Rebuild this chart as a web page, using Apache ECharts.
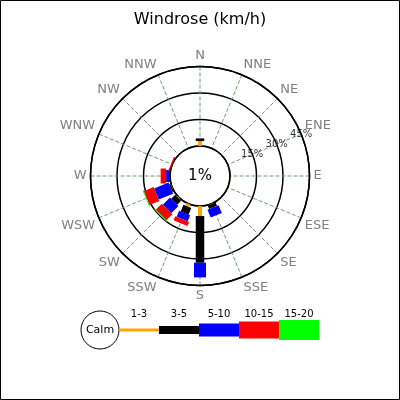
<!DOCTYPE html>
<html>
<head>
<meta charset="utf-8">
<script src="https://cdn.jsdelivr.net/npm/echarts@6/dist/echarts.min.js"></script>
<style>
html, body { margin: 0; padding: 0; background: #fff; }
#chart { width: 400px; height: 400px; }
</style>
</head>
<body>
<div id="chart"></div>
<script>
// directions, clockwise from north
var directions = ['N', 'NNE', 'NE', 'ENE', 'E', 'ESE', 'SE', 'SSE', 'S', 'SSW', 'SW', 'WSW', 'W', 'WNW', 'NW', 'NNW'];
var speedClasses = ['1-3', '3-5', '5-10', '10-15', '15-20'];
// percent of time per direction and speed class (km/h)
var speed1to3   = [2.8, 0, 0, 0, 0, 0, 0, 0.3, 5.7, 1.7, 0.5, 0.3, 0, 0, 0, 0];
var speed3to5   = [1.5, 0, 0, 0, 0, 0, 0, 2.0, 26.4, 4.0, 3.2, 0.6, 0, 0, 0, 0];
var speed5to10  = [0, 0, 0, 0, 0, 0, 0, 4.8, 8.3, 3.7, 5.7, 8.8, 2.2, 0, 0, 0];
var speed10to15 = [0, 0, 0, 0, 0, 0, 0, 0, 0, 2.5, 4.8, 6.0, 3.1, 0.8, 0, 0];
var speed15to20 = [0, 0, 0, 0, 0, 0, 0, 0, 0, 0, 0.5, 0.5, 0, 0, 0, 0];
var radialTicks = [15, 30, 45];
var calmPercent = 1;

var colors = ['#ffa500', '#000000', '#0000ff', '#ff0000', '#00ff00'];
var barWidths = [4, 8.5, 12, 15, 18];      // px, in the rose
var legendThick = [3, 8, 13, 17, 20];      // px, in the legend
var font = 'DejaVu Sans';
var step = 360 / directions.length;

function makeRenderer(color, w) {
	return function (params, api) {
		var a = api.value(2);
		var p0 = api.coord([api.value(0), a]);
		var p1 = api.coord([api.value(1), a]);
		var q0 = api.coord([0, a]);
		var q1 = api.coord([radialTicks[radialTicks.length - 1], a]);
		var dx = q1[0] - q0[0], dy = q1[1] - q0[1];
		var len = Math.sqrt(dx * dx + dy * dy);
		var nx = -dy / len * w / 2, ny = dx / len * w / 2;
		return {
			type: 'polygon',
			shape: {
				points: [
					[p0[0] + nx, p0[1] + ny],
					[p1[0] + nx, p1[1] + ny],
					[p1[0] - nx, p1[1] - ny],
					[p0[0] - nx, p0[1] - ny]
				]
			},
			style: { fill: color }
		};
	};
}

// stack the classes outward, one rectangle per segment
var classValues = [speed1to3, speed3to5, speed5to10, speed10to15, speed15to20];
var base = directions.map(function () { return 0; });
var series = [];
classValues.forEach(function (vals, k) {
	var data = [];
	vals.forEach(function (v, i) {
		if (v > 0) data.push([base[i], base[i] + v, i * step]);
		base[i] += v;
	});
	series.push({
		name: speedClasses[k],
		type: 'custom',
		coordinateSystem: 'polar',
		encode: { radius: [0, 1], angle: 2 },
		renderItem: makeRenderer(colors[k], barWidths[k]),
		silent: true,
		z: 3,
		data: data
	});
});

// radial tick labels along ENE
series.push({
	type: 'scatter',
	coordinateSystem: 'polar',
	symbol: 'circle',
	symbolSize: 1,
	itemStyle: { color: 'transparent' },
	silent: true,
	z: 5,
	label: {
		show: true,
		position: 'inside',
		formatter: function (p) { return p.value[0] + '%'; },
		fontSize: 10,
		color: '#000',
		fontFamily: font
	},
	data: radialTicks.map(function (t) { return [t, directions.indexOf('ENE') * step]; })
});

// legend drawn as graphic
var graphics = [
	{ type: 'rect', shape: { x: 0.5, y: 0.5, width: 399, height: 399 }, style: { fill: 'none', stroke: '#000', lineWidth: 1 }, silent: true },
	{ type: 'text', style: { text: calmPercent + '%', x: 200, y: 176, textAlign: 'center', textVerticalAlign: 'middle', fontSize: 15, fontFamily: font, fill: '#000' } },
	{ type: 'circle', shape: { cx: 100, cy: 330, r: 19 }, style: { fill: '#fff', stroke: '#000', lineWidth: 1 } },
	{ type: 'text', style: { text: 'Calm', x: 100, y: 330, textAlign: 'center', textVerticalAlign: 'middle', fontSize: 11, fontFamily: font, fill: '#000' } }
];
speedClasses.forEach(function (name, k) {
	var x = 119 + k * 40;
	graphics.push({ type: 'rect', shape: { x: x, y: 330 - legendThick[k] / 2, width: 40, height: legendThick[k] }, style: { fill: colors[k] } });
	graphics.push({ type: 'text', style: { text: name, x: x + 20, y: 314, textAlign: 'center', textVerticalAlign: 'middle', fontSize: 10, fontFamily: font, fill: '#000' } });
});

var myChart = echarts.init(document.getElementById('chart'));
var option = {
	backgroundColor: '#fff',
	animation: false,
	textStyle: { fontFamily: font },
	title: {
		text: 'Windrose (km/h)',
		left: 'center',
		top: 7,
		textStyle: { fontSize: 16, fontWeight: 'normal', color: '#000', fontFamily: font }
	},
	polar: {
		center: [200, 176],
		radius: [30, 109.5]
	},
	angleAxis: {
		type: 'value',
		min: 0,
		max: 360,
		interval: step,
		startAngle: 90,
		clockwise: true,
		axisLine: { show: true, lineStyle: { color: '#000', width: 1.5 } },
		axisTick: { show: false },
		axisLabel: {
			color: '#808080',
			fontSize: 13,
			margin: 4,
			fontFamily: font,
			formatter: function (v) { return directions[Math.round(v / step) % directions.length]; }
		},
		splitLine: { show: true, lineStyle: { color: '#6aa06a', type: 'dashed', width: 1 } }
	},
	radiusAxis: {
		type: 'value',
		min: 0,
		max: 45,
		interval: 15,
		axisLine: { show: false },
		axisTick: { show: false },
		axisLabel: { show: false },
		splitLine: { show: true, lineStyle: { color: '#000', width: 1.5 } }
	},
	graphic: graphics,
	series: series
};
myChart.setOption(option);
</script>
</body>
</html>
